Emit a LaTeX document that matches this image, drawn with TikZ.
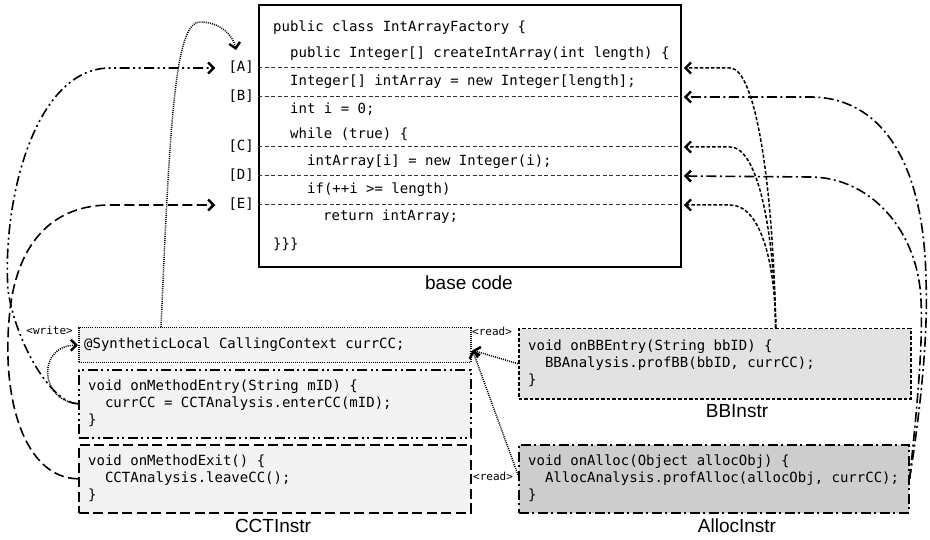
\documentclass[tikz,border=0pt]{standalone}
\usepackage{fontspec}
\setmainfont{Liberation Sans}
\newfontfamily\codefont{DejaVu Sans Mono}
\usetikzlibrary{arrows.meta}
\definecolor{cctfill}{HTML}{F3F3F3}
\definecolor{bbfill}{HTML}{E2E2E2}
\definecolor{allocfill}{HTML}{CDCDCD}
\begin{document}
\begin{tikzpicture}[x=1pt,y=-1pt,
  code/.style={font=\codefont\fontsize{14}{17}\selectfont, inner sep=0pt, anchor=west, text height=10pt, text depth=3pt},
  mcode/.style={font=\codefont\fontsize{14}{17}\selectfont, inner sep=0pt, anchor=west, align=left},
  tag/.style={font=\codefont\fontsize{11}{12}\selectfont, inner sep=0pt},
  title/.style={font=\fontsize{19}{22}\selectfont, inner sep=0pt},
  sep/.style={line width=1pt, draw=black!80, dash pattern=on 4pt off 2.5pt},
  arr/.style={-{Straight Barb[length=5.5pt,width=11pt,line width=2.4pt]}},
  dotl/.style={line width=1.5pt, dash pattern=on 1pt off 1.1pt},
  shortdash/.style={line width=1.5pt, dash pattern=on 3.5pt off 2pt},
  longdash/.style={line width=1.6pt, dash pattern=on 10pt off 4.5pt},
  dashdot/.style={line width=1.6pt, dash pattern=on 10pt off 3.5pt on 2pt off 3.5pt},
  dashdotdot/.style={line width=1.6pt, dash pattern=on 10pt off 3.5pt on 2pt off 3.5pt on 2pt off 3.5pt},
  boxn/.style={minimum width=392pt, anchor=north west, inner sep=0pt}
]
\fill[white] (0,0) rectangle (930,540);
\useasboundingbox (0,0) rectangle (930,540);

% ---------- base code ----------
\node[draw, line width=1.8pt, minimum width=422pt, minimum height=262pt, anchor=north west, inner sep=0pt] (base) at (258,4) {};
\node[code] (c1) at (273,28) {public class IntArrayFactory \{};
\node[code] (c2) at (290,54) {public Integer[] createIntArray(int length) \{};
\node[code] (c3) at (290,82) {Integer[] intArray = new Integer[length];};
\node[code] (c4) at (290,110) {int i = 0;};
\node[code] (c5) at (290,135) {while (true) \{};
\node[code] (c6) at (307,162) {intArray[i] = new Integer(i);};
\node[code] (c7) at (307,190) {if(++i >= length)};
\node[code] (c8) at (323,217) {return intArray;};
\node[code] (c9) at (273,245) {\}\}\}};
\node[title] (basetitle) at (469,283) {base code};

\node[code, anchor=east] (lA) at (254,68) {[A]};
\node[code, anchor=east] (lB) at (254,97) {[B]};
\node[code, anchor=east] (lC) at (254,147) {[C]};
\node[code, anchor=east] (lD) at (254,176) {[D]};
\node[code, anchor=east] (lE) at (254,205) {[E]};
\foreach \n in {A,B,C,D,E}{
  \draw[sep] (base.west |- l\n) -- (base.east |- l\n);
  \path (base.east |- l\n) ++(2,0) coordinate (r\n);
  \path (l\n.west) ++(-13,0) coordinate (p\n);
}

% ---------- CCTInstr ----------
\node[boxn, draw, fill=cctfill, dotl, minimum height=35pt] (ssl) at (78,327) {};
\node[code] (sslt) at (84,345) {@SyntheticLocal CallingContext currCC;};
\node[boxn, draw, fill=cctfill, dashdotdot, minimum height=68pt] (ent) at (78,369) {};
\node[mcode] (entt) at (88,403) {void onMethodEntry(String mID) \{\\\phantom{xx}currCC = CCTAnalysis.enterCC(mID);\\\}};
\node[boxn, draw, fill=cctfill, longdash, minimum height=68pt] (ext) at (78,444) {};
\node[mcode] (extt) at (88,478) {void onMethodExit() \{\\\phantom{xx}CCTAnalysis.leaveCC();\\\}};
\node[title] (ccttitle) at (273,526) {CCTInstr};

% ---------- BBInstr ----------
\node[boxn, draw, fill=bbfill, shortdash, minimum height=70pt] (bb) at (518,328) {};
\node[mcode] (bbt) at (528,363) {void onBBEntry(String bbID) \{\\\phantom{xx}BBAnalysis.profBB(bbID, currCC);\\\}};
\node[title] (bbtitle) at (737,411) {BBInstr};

% ---------- AllocInstr ----------
\node[boxn, draw, fill=allocfill, dashdot, minimum width=390pt, minimum height=68pt] (alloc) at (518,444) {};
\node[mcode] (alloct) at (528,478) {void onAlloc(Object allocObj) \{\\\phantom{xx}AllocAnalysis.profAlloc(allocObj, currCC);\\\}};
\node[title] (alloctitle) at (737,526) {AllocInstr};

% tags
\node[tag, anchor=east] (wtag) at (73,330) {<write>};
\node[tag, anchor=west] (rtag1) at (472,331) {<read>};
\node[tag, anchor=west] (rtag2) at (473,476) {<read>};

% helper coordinates
\path (bb.north) ++(61,0) coordinate (bbtop);
\path (ssl.north west) ++(83,0) coordinate (ssltop);
\path (ssl.east) ++(1,5) coordinate (rdtip);
\path (alloc.west) ++(0,-4) coordinate (allocw);

% ---------- connectors ----------
% synthetic local -> [A]
\draw[dotl, arr] (ssltop) .. controls (170,120) and (175,22) .. (200,22) .. controls (220,22) and (233,35) .. (236,50);
% onMethodEntry -> [A]
\draw[dashdotdot, arr] (ent.west) .. controls (50,403) and (15,340) .. (8,290) .. controls (2,200) and (35,68) .. (110,68) -- (pA);
% onMethodExit -> [E]
\draw[longdash, arr] (ext.west) .. controls (25,478) and (0,400) .. (10,310) .. controls (18,240) and (55,205) .. (110,205) -- (pE);
% write
\draw[dotl, arr] (ent.west) .. controls (38,400) and (38,345) .. (ssl.west);
% reads
\draw[dotl, arr] (bb.west) -- (rdtip);
\draw[dotl, arr] (allocw) -- (rdtip);
% BB -> A, C, E
\draw[shortdash, arr] (bbtop) .. controls (773,180) and (755,68) .. (730,68) -- (rA);
\draw[shortdash, arr] (bbtop) .. controls (774,230) and (758,147) .. (730,147) -- (rC);
\draw[shortdash, arr] (bbtop) .. controls (775,260) and (760,205) .. (730,205) -- (rE);
% Alloc -> B, D
\draw[dashdot, arr] (alloc.east) .. controls (922,400) and (928,330) .. (926,280) .. controls (924,160) and (880,97) .. (810,97) -- (rB);
\draw[dashdot, arr] (alloc.east) .. controls (918,400) and (923,340) .. (921,300) .. controls (918,230) and (870,177) .. (810,177) -- (rD);
\end{tikzpicture}
\end{document}
